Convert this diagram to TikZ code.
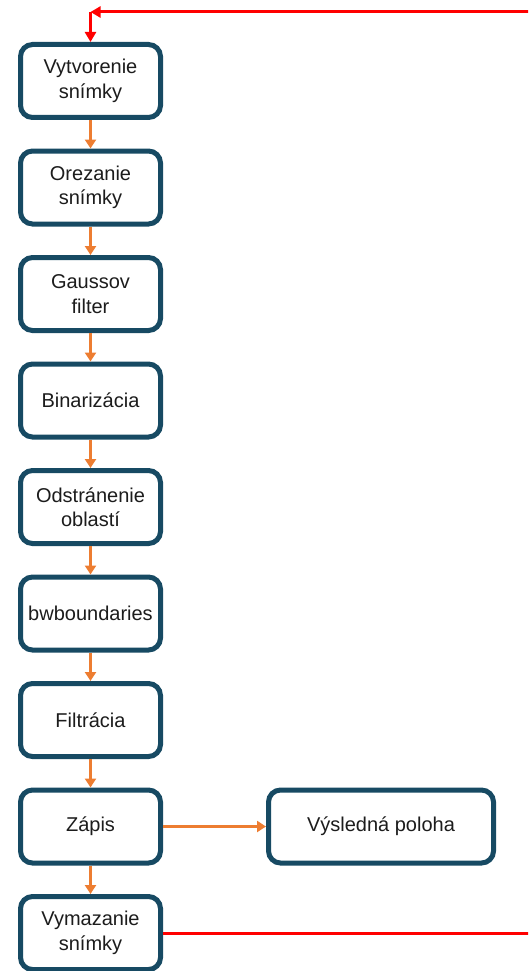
\documentclass[tikz,border=0pt]{standalone}
\usepackage{fontspec}
\setmainfont{Liberation Sans}
\usetikzlibrary{positioning}
\usetikzlibrary{arrows.meta}
\definecolor{boxline}{HTML}{174A63}
\definecolor{flowor}{HTML}{ED7D31}
\definecolor{txt}{HTML}{1C1C1C}

\begin{document}
\begin{tikzpicture}[
        x = 1pt, y = -1pt,
        block/.style = {
            draw = boxline,
            line width = 5pt,
            rounded corners = 12pt,
            fill = white,
            text = txt,
            align = center,
            minimum width = #1,
            minimum height = 73pt,
            inner sep = 2pt,
            font = \fontsize{20}{24.5}\selectfont
        },
        block/.default = 140pt,
        flow/.style = {
            draw = flowor,
            line width = 2.5pt,
            -{Triangle[length=9pt, width=11pt]}
        },
        back/.style = {
            draw = red,
            line width = 3pt,
            -{Triangle[length=10pt, width=11pt]}
        },
        node distance = {28.5pt}
        ]
%
        \path[use as bounding box, clip] (0,0) rectangle (528,971);
%
        \node[block] (1) at (90.5,81) {Vytvorenie\\snímky};
        \node[block, below=of 1] (2) {Orezanie\\snímky};
        \node[block, below=of 2] (3) {Gaussov\\filter};
        \node[block, below=of 3] (4) {Binarizácia};
        \node[block, below=of 4] (5) {Odstránenie\\oblastí};
        \node[block, below=of 5] (6) {bwboundaries};
        \node[block, below=of 6] (7) {Filtrácia};
        \node[block, below=of 7] (8) {Zápis};
        \node[block, below=of 8] (9) {Vymazanie\\snímky};
%
        \node[block=225pt] (res) [right=103pt of 8] {Výsledná poloha};
%
%
        \draw[flow] (1) -- (2);
        \draw[flow] (2) -- (3);
        \draw[flow] (3) -- (4);
        \draw[flow] (4) -- (5);
        \draw[flow] (5) -- (6);
        \draw[flow] (6) -- (7);
        \draw[flow] (7) -- (8);
        \draw[flow] (8) -- (9);
        \draw[flow] (8) -- (res);
%
        \coordinate (r) at (560,12);
        \coordinate (l) at (1.north |- r);
        \draw[back] (9.east) -| (r) -- (l);
        \draw[back] (l) -- (1);
%
    \end{tikzpicture}
\end{document}
